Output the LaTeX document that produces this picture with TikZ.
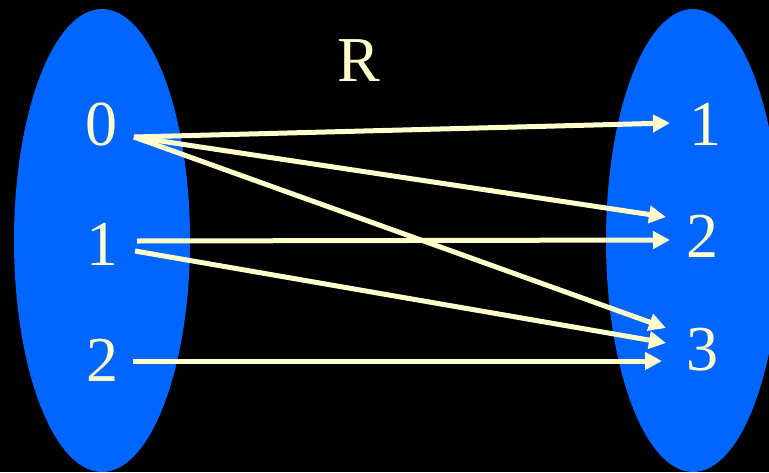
\documentclass[tikz,border=0pt]{standalone}
\usepackage{fontspec}
\setmainfont{Liberation Serif}
\usetikzlibrary{arrows.meta}
\definecolor{setblue}{HTML}{0066FF}
\definecolor{cream}{HTML}{FFFFCC}
\begin{document}
\begin{tikzpicture}[x=1pt,y=-1pt,
  lbl/.style={text=cream,font=\fontsize{64}{64}\selectfont,inner sep=0pt,anchor=base},
  rel/.style={draw=cream,line width=5pt,-{Triangle[length=17pt,width=17pt]}}]
\fill[black] (0,0) rectangle (769,472);
\useasboundingbox (0,0) rectangle (769,472);
\begin{scope}
  \clip (0,0) rectangle (769,472);
  \fill[setblue] (102,240.5) ellipse [x radius=88, y radius=231.5];
  \fill[setblue] (693,240.5) ellipse [x radius=87, y radius=231.5];
\end{scope}
% labels
\node[lbl] (R)  at (359,81)  {R};
\node[lbl] (a0) at (101.5,145) {0};
\node[lbl] (a1) at (102,265) {1};
\node[lbl] (a2) at (102,381) {2};
\node[lbl] (b1) at (705,145) {1};
\node[lbl] (b2) at (702,257) {2};
\node[lbl] (b3) at (702,370) {3};
% connector ends
\coordinate (s0) at (134,137);
\coordinate (s1a) at (137,241);
\coordinate (s1b) at (135,251);
\coordinate (s2) at (133,361);
\coordinate (t1) at (670,123);
\coordinate (t2a) at (666,217);
\coordinate (t2b) at (670,240);
\coordinate (t3a) at (666,328);
\coordinate (t3b) at (666,343);
\coordinate (t3c) at (662,361);
\draw[rel] (s0) -- (t1);
\draw[rel] (s0) -- (t2a);
\draw[rel] (s0) -- (t3a);
\draw[rel] (s1a) -- (t2b);
\draw[rel] (s1b) -- (t3b);
\draw[rel] (s2) -- (t3c);
\end{tikzpicture}
\end{document}
